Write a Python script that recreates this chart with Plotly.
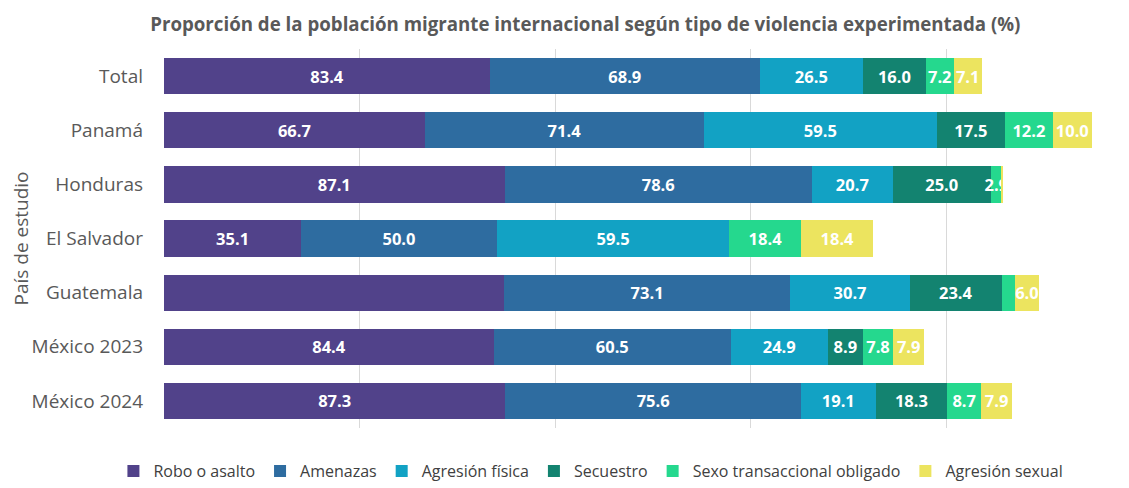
import plotly.graph_objects as go

categories = ["Total", "Panamá", "Honduras", "El Salvador", "Guatemala", "México 2023", "México 2024"]

series_names = ["Robo o asalto", "Amenazas", "Agresión física", "Secuestro",
                "Sexo transaccional obligado", "Agresión sexual"]

robo = [83.4, 66.7, 87.1, 35.1, 87.0, 84.4, 87.3]
amenazas = [68.9, 71.4, 78.6, 50.0, 73.1, 60.5, 75.6]
agresion_fisica = [26.5, 59.5, 20.7, 59.5, 30.7, 24.9, 19.1]
secuestro = [16.0, 17.5, 25.0, 0.0, 23.4, 8.9, 18.3]
sexo_transaccional = [7.2, 12.2, 2.9, 18.4, 3.5, 7.8, 8.7]
agresion_sexual = [7.1, 10.0, 0.4, 18.4, 6.0, 7.9, 7.9]

# labels that are not shown in the original (series index, category)
hidden_labels = {(0, "Guatemala"), (4, "Guatemala"), (5, "Honduras"), (3, "El Salvador")}

colors = ["#51428a", "#2e6ca0", "#12a2c4", "#138370", "#25d88e", "#ece45f"]

all_values = [robo, amenazas, agresion_fisica, secuestro, sexo_transaccional, agresion_sexual]

fig = go.Figure()
for i, (name, vals, col) in enumerate(zip(series_names, all_values, colors)):
    texts = ["" if (i, c) in hidden_labels else f"{v:.1f}" for c, v in zip(categories, vals)]
    fig.add_trace(go.Bar(
        y=categories, x=vals, name=name, orientation="h",
        marker=dict(color=col, line=dict(width=0)),
        text=texts, textposition="inside", insidetextanchor="middle",
        textangle=0, constraintext="none",
        textfont=dict(family="Open Sans", size=16.5, color="white", weight="bold"),
        cliponaxis=False,
    ))

# page body has an 8px margin; figure is sized/offset to compensate
fig.update_layout(
    barmode="stack",
    bargap=0.33,
    width=1121, height=480,
    margin=dict(l=156, r=0, t=41, b=60, autoexpand=False),
    paper_bgcolor="white", plot_bgcolor="white",
    title=dict(
        text="<b>Proporción de la población migrante internacional según tipo de violencia experimentada (%)</b>",
        x=0.515, xanchor="center", xref="container", y=0.965, yanchor="middle", yref="container",
        font=dict(family="Open Sans", size=18.7, color="#595959"),
    ),
    xaxis=dict(range=[0, 246.8], showticklabels=False, showgrid=True,
               gridcolor="#d9d9d9", gridwidth=1, zeroline=False, dtick=50, tick0=0,
               automargin=False),
    yaxis=dict(autorange="reversed", tickfont=dict(family="Open Sans", size=19, color="#595959"),
               ticklabelstandoff=20, showline=False, automargin=False,
               title=dict(text="País de estudio", font=dict(family="Open Sans", size=19, color="#595959"),
                          standoff=6)),
    legend=dict(orientation="h", x=0.52, xanchor="center", xref="container",
                y=0.035, yanchor="middle", yref="container",
                font=dict(family="Open Sans", size=16, color="#404040"),
                traceorder="normal", itemwidth=30),
    showlegend=True,
)

fig.write_html("out.html")
